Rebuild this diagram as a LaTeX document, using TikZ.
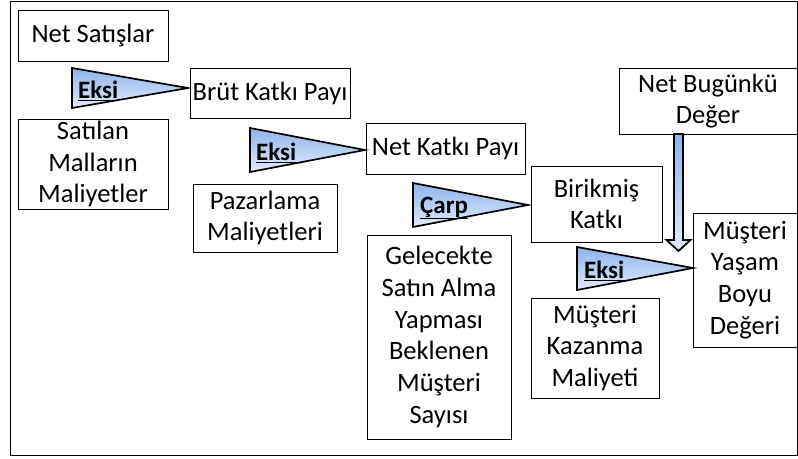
\documentclass[tikz,border=0pt]{standalone}
\usepackage{fontspec}
\setmainfont{Carlito}
\definecolor{koyumavi}{HTML}{8DB3EC}
\definecolor{acikmavi}{HTML}{E3ECFB}

\begin{document}
\begin{tikzpicture}[x=1pt,y=-1pt,
  kutu/.style={draw,line width=0.9pt,align=center,inner sep=0pt,
               font=\fontsize{26.5}{31.7}\selectfont},
  islem/.style={draw,line width=1.7pt,line join=miter,
                top color=koyumavi,bottom color=acikmavi},
  etiket/.style={anchor=west,inner sep=0pt,font=\fontsize{25}{28}\selectfont\bfseries}]

\useasboundingbox (0,0) rectangle (798,458);
\draw[line width=0.9pt] (10,1) rectangle (797.5,455);

% kutular
\node[kutu,minimum width=150pt,minimum height=51pt] (netsatis) at (93,35.5) {Net Satışlar};
\node[kutu,minimum width=160pt,minimum height=50pt] (brut) at (270,93) {Brüt Katkı Payı};
\node[kutu,minimum width=150pt,minimum height=90pt] (satilan) at (93,164) {Satılan\\Malların\\Maliyetler};
\node[kutu,minimum width=159pt,minimum height=51pt] (netkatki) at (445.5,148.5) {Net Katkı Payı};
\node[kutu,minimum width=144pt,minimum height=68pt] (pazarlama) at (265,218) {Pazarlama\\Maliyetleri};
\node[kutu,minimum width=131pt,minimum height=76pt] (birikmis) at (596.5,204) {Birikmiş\\Katkı};
\node[kutu,minimum width=144pt,minimum height=204pt] (gelecek) at (439,337) {Gelecekte\\Satın Alma\\Yapması\\Beklenen\\Müşteri\\Sayısı};
\node[kutu,minimum width=178pt,minimum height=66pt] (nbd) at (708,101) {Net Bugünkü\\Değer};
\node[kutu,minimum width=104pt,minimum height=134pt] (ybd) at (745,280) {Müşteri\\Yaşam\\Boyu\\Değeri};
\node[kutu,minimum width=128pt,minimum height=100pt] (kazanma) at (595,348) {Müşteri\\Kazanma\\Maliyeti};

% islem oklari
\coordinate (u1) at (188,88);
\coordinate (u2) at (365,150);
\coordinate (u3) at (528,205);
\coordinate (u4) at (693,268);

\draw[islem] (72,68) -- (u1) -- (72,108) -- cycle;
\draw[islem] (250,128) -- (u2) -- (250,172) -- cycle;
\draw[islem] (413,183) -- (u3) -- (413,227) -- cycle;
\draw[islem] (577,247) -- (u4) -- (577,290) -- cycle;

\node[etiket] (eksi1) at (78,91) {\underline{Eksi}};
\node[etiket] (eksi2) at (256,153) {\underline{Eksi}};
\node[etiket] (carp) at (420,208) {\underline{Çarp}};
\node[etiket] (eksi4) at (584,271) {\underline{Eksi}};

% asagi ok
\draw[islem] (674,134) -- (683,134) -- (683,240) -- (690.5,240) -- (678.5,251)
  -- (666.5,240) -- (674,240) -- cycle;
\end{tikzpicture}
\end{document}
